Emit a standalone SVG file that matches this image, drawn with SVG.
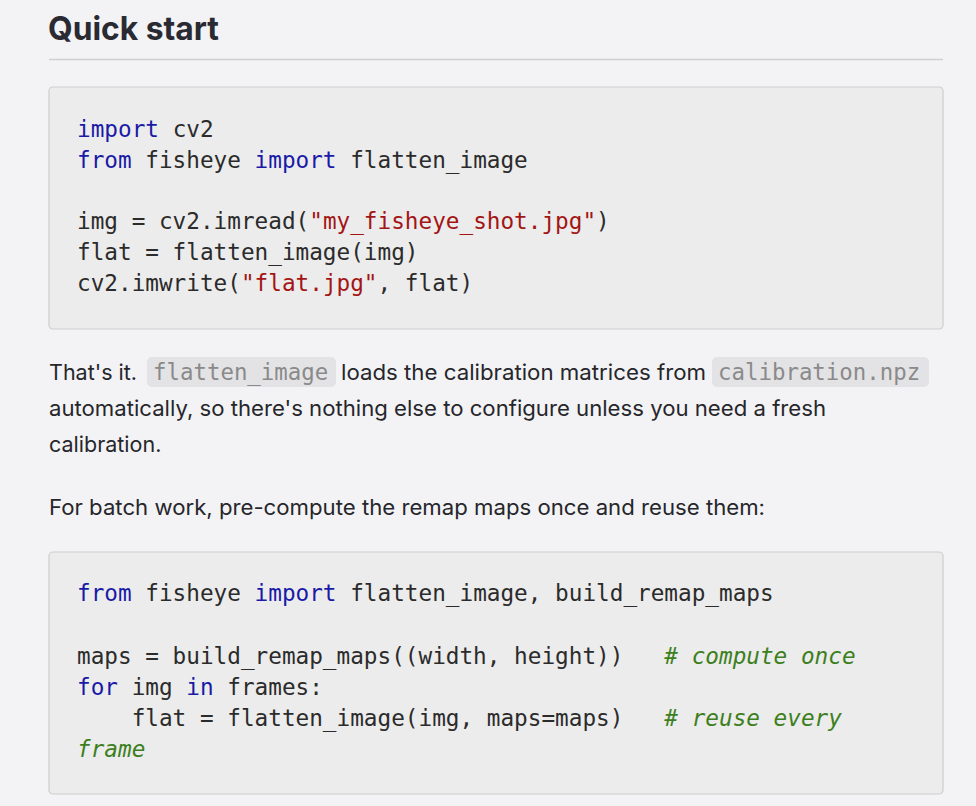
<svg xmlns="http://www.w3.org/2000/svg" width="976" height="806" viewBox="0 0 976 806">
<style>
.m{font-family:"DejaVu Sans Mono",monospace;font-size:22.7px;fill:#2b2b2b;white-space:pre}
.k{fill:#1a1aa6}.s{fill:#a31515}.c{fill:#3d7f1d;font-style:italic}
.p{font-family:Inter,"Liberation Sans",sans-serif;font-size:21.5px;fill:#26262b}
.ic{font-family:"DejaVu Sans Mono",monospace;font-size:22.4px;fill:#8a8a8a}
.box{fill:#ececec;stroke:#cdcdcd;stroke-width:1.2}
</style>
<rect width="976" height="806" fill="#f3f3f5"/>
<text x="48" y="40" font-family="Inter,'Liberation Sans',sans-serif" font-size="33" font-weight="700" fill="#2a2a33" textLength="171" lengthAdjust="spacingAndGlyphs">Quick start</text>
<line x1="49" y1="59.5" x2="943" y2="59.5" stroke="#cfcfd2" stroke-width="1.3"/>
<rect class="box" x="49" y="87" width="894" height="242" rx="4"/>
<text class="m" x="77" y="137" xml:space="preserve"><tspan class="k">import</tspan> cv2</text>
<text class="m" x="77" y="168" xml:space="preserve"><tspan class="k">from</tspan> fisheye <tspan class="k">import</tspan> flatten_image</text>
<text class="m" x="77" y="229" xml:space="preserve">img = cv2.imread(<tspan class="s">"my_fisheye_shot.jpg"</tspan>)</text>
<text class="m" x="77" y="260" xml:space="preserve">flat = flatten_image(img)</text>
<text class="m" x="77" y="291" xml:space="preserve">cv2.imwrite(<tspan class="s">"flat.jpg"</tspan>, flat)</text>
<rect x="147" y="357" width="189" height="30" rx="5" fill="#e3e3e6"/>
<rect x="712" y="357" width="217" height="30" rx="5" fill="#e3e3e6"/>
<text class="p" x="49" y="380">That's it.</text>
<text class="ic" x="153" y="380">flatten_image</text>
<text class="p" x="341" y="380" textLength="365" lengthAdjust="spacingAndGlyphs">loads the calibration matrices from</text>
<text class="ic" x="718" y="380">calibration.npz</text>
<text class="p" x="49" y="416" textLength="777" lengthAdjust="spacingAndGlyphs">automatically, so there's nothing else to configure unless you need a fresh</text>
<text class="p" x="49" y="452">calibration.</text>
<text class="p" x="49" y="515" textLength="716" lengthAdjust="spacingAndGlyphs">For batch work, pre-compute the remap maps once and reuse them:</text>
<rect class="box" x="49" y="552" width="894" height="242" rx="4"/>
<text class="m" x="77" y="601" xml:space="preserve"><tspan class="k">from</tspan> fisheye <tspan class="k">import</tspan> flatten_image, build_remap_maps</text>
<text class="m" x="77" y="664" xml:space="preserve">maps = build_remap_maps((width, height))   <tspan class="c"># compute once</tspan></text>
<text class="m" x="77" y="695" xml:space="preserve"><tspan class="k">for</tspan> img <tspan class="k">in</tspan> frames:</text>
<text class="m" x="77" y="726" xml:space="preserve">    flat = flatten_image(img, maps=maps)   <tspan class="c"># reuse every</tspan></text>
<text class="m" x="77" y="757" xml:space="preserve"><tspan class="c">frame</tspan></text>
</svg>
